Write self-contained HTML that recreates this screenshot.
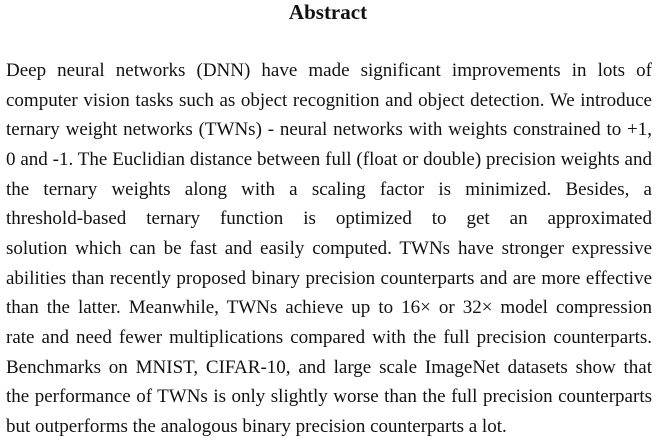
<!DOCTYPE html>
<html><head><meta charset="utf-8"><style>
html,body{margin:0;padding:0;background:#fff;width:656px;height:440px;overflow:hidden}
body{font-family:"Liberation Serif",serif;color:#111}
h1{position:absolute;left:0;width:656px;top:-1px;margin:0;text-align:center;font-size:21px;font-weight:bold;line-height:26px}
.l{position:absolute;left:6px;width:646px;font-size:19px;line-height:22px;text-align:justify;text-align-last:justify;white-space:nowrap}
.last{text-align-last:left}
</style></head><body>
<h1>Abstract</h1>
<div>
<div class="l" style="top:60px">Deep neural networks (DNN) have made significant improvements in lots of</div>
<div class="l" style="top:89.7px">computer vision tasks such as object recognition and object detection. We introduce</div>
<div class="l" style="top:119.3px">ternary weight networks (TWNs) - neural networks with weights constrained to +1,</div>
<div class="l" style="top:149px">0 and -1. The Euclidian distance between full (float or double) precision weights and</div>
<div class="l" style="top:178.7px">the ternary weights along with a scaling factor is minimized. Besides, a</div>
<div class="l" style="top:208.3px">threshold-based ternary function is optimized to get an approximated</div>
<div class="l" style="top:238px">solution which can be fast and easily computed. TWNs have stronger expressive</div>
<div class="l" style="top:267.7px">abilities than recently proposed binary precision counterparts and are more effective</div>
<div class="l" style="top:297.3px">than the latter. Meanwhile, TWNs achieve up to 16× or 32× model compression</div>
<div class="l" style="top:327px">rate and need fewer multiplications compared with the full precision counterparts.</div>
<div class="l" style="top:356.7px">Benchmarks on MNIST, CIFAR-10, and large scale ImageNet datasets show that</div>
<div class="l" style="top:386.3px">the performance of TWNs is only slightly worse than the full precision counterparts</div>
<div class="l last" style="top:416px">but outperforms the analogous binary precision counterparts a lot.</div>
</div>
</body></html>
